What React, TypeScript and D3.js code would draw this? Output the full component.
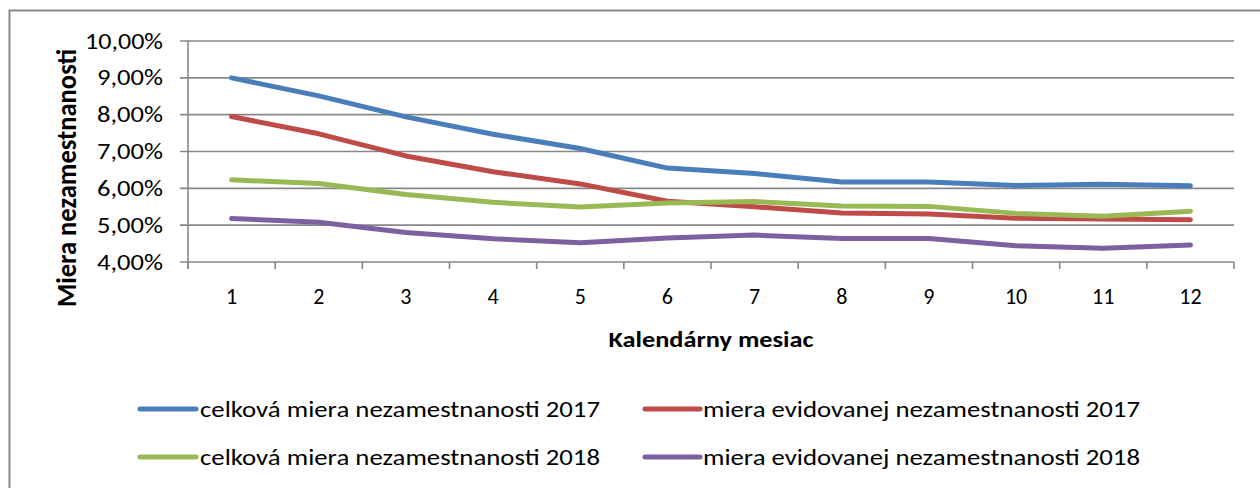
import React from "react";
import * as d3 from "d3";

const months = [1, 2, 3, 4, 5, 6, 7, 8, 9, 10, 11, 12];
const celkova2017 = [9.0, 8.51, 7.94, 7.47, 7.08, 6.55, 6.4, 6.17, 6.17, 6.08, 6.11, 6.07];
const evidovana2017 = [7.95, 7.48, 6.88, 6.45, 6.12, 5.65, 5.5, 5.33, 5.3, 5.19, 5.17, 5.15];
const celkova2018 = [6.23, 6.13, 5.83, 5.62, 5.49, 5.6, 5.64, 5.52, 5.51, 5.32, 5.24, 5.38];
const evidovana2018 = [5.18, 5.08, 4.8, 4.63, 4.52, 4.65, 4.73, 4.64, 4.64, 4.44, 4.37, 4.46];
const yTicks = [4, 5, 6, 7, 8, 9, 10];
const seriesNames = [
  "celková miera nezamestnanosti 2017",
  "miera evidovanej nezamestnanosti 2017",
  "celková miera nezamestnanosti 2018",
  "miera evidovanej nezamestnanosti 2018",
];
const seriesColors = ["#4A7EBB", "#BE4B48", "#98B954", "#7D60A0"];
const seriesValues = [celkova2017, evidovana2017, celkova2018, evidovana2018];
const xTitle = "Kalendárny mesiac";
const yTitle = "Miera nezamestnanosti";

const FONT = "Carlito, Calibri, 'Open Sans', sans-serif";
const GRID = "#878787";

export default function App() {
  const left = 188, right = 1234, top = 41, bottom = 262;
  const x = d3.scaleBand<number>().domain(months).range([left, right]).paddingInner(0).paddingOuter(0);
  const y = d3.scaleLinear().domain([4, 10]).range([bottom, top]);
  const cx = (m: number) => (x(m) as number) + x.bandwidth() / 2;
  const line = d3
    .line<number>()
    .x((_, i) => cx(months[i]))
    .y((v) => y(v));
  const fmt = (v: number) => v.toFixed(2).replace(".", ",") + "%";
  const boundaries = months.map((m) => x(m) as number).concat([right]);

  const legendPos = [
    { x0: 140, x1: 196, tx: 200, ty: 417, ly: 409, w: 400 },
    { x0: 645, x1: 700, tx: 703, ty: 417, ly: 409, w: 437 },
    { x0: 140, x1: 196, tx: 200, ty: 465, ly: 457, w: 400 },
    { x0: 645, x1: 700, tx: 703, ty: 465, ly: 457, w: 437 },
  ];

  return (
    <svg
      width={1260}
      height={488}
      style={{ position: "absolute", left: 0, top: 0, background: "#fff" }}
      fontFamily={FONT}
    >
      <rect x={0} y={0} width={1260} height={488} fill="#fff" />
      <rect x={9.5} y={10.5} width={1300} height={600} fill="none" stroke={GRID} strokeWidth={2} />
      {/* gridlines */}
      {yTicks.map((t) => (
        <line key={"g" + t} x1={left - 8} x2={right} y1={y(t)} y2={y(t)} stroke={GRID} strokeWidth={1.6} />
      ))}
      {/* y axis */}
      <line x1={left} x2={left} y1={top} y2={bottom + 7} stroke={GRID} strokeWidth={1.6} />
      {/* x ticks */}
      {boundaries.map((b, i) => (
        <line key={"xt" + i} x1={b} x2={b} y1={bottom} y2={bottom + 7} stroke={GRID} strokeWidth={1.6} />
      ))}
      {/* y tick labels */}
      {yTicks.map((t) => (
        <text
          key={"yl" + t}
          x={163}
          y={y(t) + 7.5}
          textAnchor="end"
          fontSize={22}
          fill="#000"
          textLength={fmt(t).length === 6 ? 78 : 66}
          lengthAdjust="spacingAndGlyphs"
        >
          {fmt(t)}
        </text>
      ))}
      {/* x tick labels */}
      {months.map((m) => (
        <text key={"xl" + m} x={cx(m)} y={304} textAnchor="middle" fontSize={22} fill="#000">
          {m}
        </text>
      ))}
      {/* series */}
      {seriesValues.map((vals, i) => (
        <path
          key={"s" + i}
          d={line(vals) || ""}
          fill="none"
          stroke={seriesColors[i]}
          strokeWidth={5}
          strokeLinecap="round"
          strokeLinejoin="round"
        />
      ))}
      {/* axis titles */}
      <text x={711} y={347} textAnchor="middle" fontSize={23} fontWeight="bold" fill="#000" textLength={205} lengthAdjust="spacingAndGlyphs">
        {xTitle}
      </text>
      <text
        transform={`translate(76, 178) rotate(-90)`}
        textAnchor="middle"
        fontSize={28}
        fontWeight="bold"
        fill="#000"
        textLength={258}
        lengthAdjust="spacingAndGlyphs"
      >
        {yTitle}
      </text>
      {/* legend */}
      {seriesNames.map((name, i) => {
        const p = legendPos[i];
        return (
          <g key={"lg" + i}>
            <line x1={p.x0} x2={p.x1} y1={p.ly} y2={p.ly} stroke={seriesColors[i]} strokeWidth={5} strokeLinecap="round" />
            <text x={p.tx} y={p.ty} fontSize={22} fill="#000" textLength={p.w} lengthAdjust="spacingAndGlyphs">
              {name}
            </text>
          </g>
        );
      })}
    </svg>
  );
}
